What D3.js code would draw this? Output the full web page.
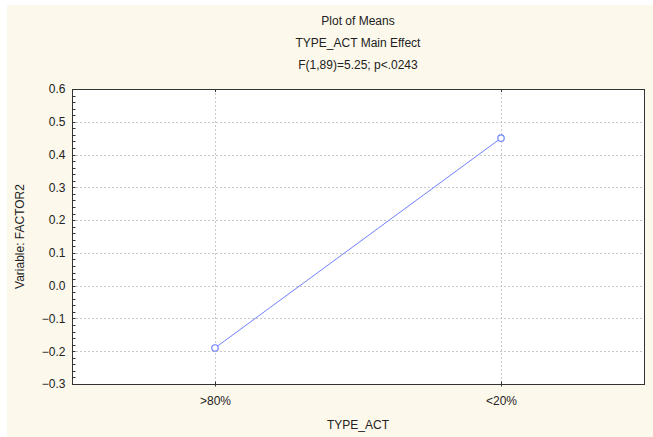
<!DOCTYPE html>
<html>
<head>
<meta charset="utf-8">
<script src="https://cdn.jsdelivr.net/npm/d3@7"></script>
<style>
  body { margin: 0; background: #fff; }
  svg { display: block; font-family: "Liberation Sans", Arial, sans-serif; }
</style>
</head>
<body>
<div class="content"></div>
<script>
var categories = [">80%", "<20%"];
var means = [-0.19, 0.45];
var yTicks = [-0.3, -0.2, -0.1, 0.0, 0.1, 0.2, 0.3, 0.4, 0.5, 0.6];
var titleLines = ["Plot of Means", "TYPE_ACT Main Effect", "F(1,89)=5.25; p<.0243"];

var W = 653, H = 437;
var pLeft = 72, pRight = 644, pTop = 89, pBottom = 384;

var svg = d3.select('.content').append('svg')
    .attr('width', W).attr('height', H);

// cream panel
svg.append('rect')
    .attr('x', 7).attr('y', 5)
    .attr('width', W - 7).attr('height', H - 5)
    .attr('fill', '#fdf8ec');

var x = d3.scalePoint().domain(categories).range([pLeft, pRight]).padding(0.5);
var y = d3.scaleLinear().domain([-0.3, 0.6]).range([pBottom, pTop]);

svg.append('rect')
    .attr('x', pLeft).attr('y', pTop)
    .attr('width', pRight - pLeft).attr('height', pBottom - pTop)
    .attr('fill', '#fff');

// dotted grid
svg.append('g').selectAll('line')
    .data(yTicks.slice(1, -1))
    .enter().append('line')
    .attr('x1', pLeft).attr('x2', pRight)
    .attr('y1', function(d) { return Math.round(y(d)) + 0.5; })
    .attr('y2', function(d) { return Math.round(y(d)) + 0.5; })
    .attr('stroke', '#c8c8c8').attr('stroke-dasharray', '2,2');

svg.append('g').selectAll('line')
    .data(categories)
    .enter().append('line')
    .attr('x1', function(d) { return Math.round(x(d)) + 0.5; })
    .attr('x2', function(d) { return Math.round(x(d)) + 0.5; })
    .attr('y1', pTop).attr('y2', pBottom)
    .attr('stroke', '#c8c8c8').attr('stroke-dasharray', '2,2');

// y axis with inward ticks
var minor = d3.range(-0.3, 0.6001, 0.02);
var yAxis = svg.append('g').attr('transform', 'translate(' + (pLeft + 0.5) + ',0)');
yAxis.call(d3.axisLeft(y).tickValues(yTicks).tickFormat(d3.format('.1f')).tickSize(0).tickPadding(7));
yAxis.select('.domain').remove();
yAxis.selectAll('text').attr('font-size', 12).attr('fill', '#222').attr('font-family', '"Liberation Sans", Arial, sans-serif');
yAxis.selectAll('line.minor').data(minor).enter().append('line')
    .attr('class', 'minor')
    .attr('x1', 0).attr('x2', 3)
    .attr('y1', function(d) { return Math.round(y(d)) + 0.5; })
    .attr('y2', function(d) { return Math.round(y(d)) + 0.5; })
    .attr('stroke', '#333');

var xAxis = svg.append('g').attr('transform', 'translate(0,' + (pBottom + 0.5) + ')');
xAxis.call(d3.axisBottom(x).tickSize(3).tickPadding(9));
xAxis.select('.domain').remove();
xAxis.selectAll('line').attr('stroke', '#333').attr('y1', -3).attr('y2', 2);
xAxis.selectAll('text').attr('font-size', 12).attr('fill', '#222').attr('font-family', '"Liberation Sans", Arial, sans-serif');

svg.append('g').selectAll('line')
    .data(categories)
    .enter().append('line')
    .attr('x1', function(d) { return Math.round(x(d)) + 0.5; })
    .attr('x2', function(d) { return Math.round(x(d)) + 0.5; })
    .attr('y1', pTop).attr('y2', pTop + 3)
    .attr('stroke', '#333');

// frame
svg.append('rect')
    .attr('x', pLeft + 0.5).attr('y', pTop + 0.5)
    .attr('width', pRight - pLeft).attr('height', pBottom - pTop)
    .attr('fill', 'none').attr('stroke', '#333');

// means line
var line = d3.line()
    .x(function(d, i) { return x(categories[i]); })
    .y(function(d) { return y(d); });

svg.append('path')
    .datum(means)
    .attr('d', line)
    .attr('fill', 'none')
    .attr('stroke', '#6f80ff')
    .attr('stroke-width', 1);

svg.selectAll('circle.pt')
    .data(means)
    .enter().append('circle')
    .attr('class', 'pt')
    .attr('cx', function(d, i) { return x(categories[i]); })
    .attr('cy', function(d) { return y(d); })
    .attr('r', 3.2)
    .attr('fill', '#fff')
    .attr('stroke', '#6f80ff')
    .attr('stroke-width', 1.2);

// titles
svg.selectAll('text.title')
    .data(titleLines)
    .enter().append('text')
    .attr('class', 'title')
    .attr('x', (pLeft + pRight) / 2)
    .attr('y', function(d, i) { return 25 + i * 22; })
    .attr('text-anchor', 'middle')
    .attr('font-size', 12)
    .attr('fill', '#222')
    .text(function(d) { return d; });

svg.append('text')
    .attr('x', (pLeft + pRight) / 2)
    .attr('y', 429)
    .attr('text-anchor', 'middle')
    .attr('font-size', 12)
    .attr('fill', '#222')
    .text('TYPE_ACT');

svg.append('text')
    .attr('transform', 'translate(24,' + (pTop + pBottom) / 2 + ') rotate(-90)')
    .attr('text-anchor', 'middle')
    .attr('font-size', 12)
    .attr('fill', '#222')
    .text('Variable: FACTOR2');
</script>
</body>
</html>
